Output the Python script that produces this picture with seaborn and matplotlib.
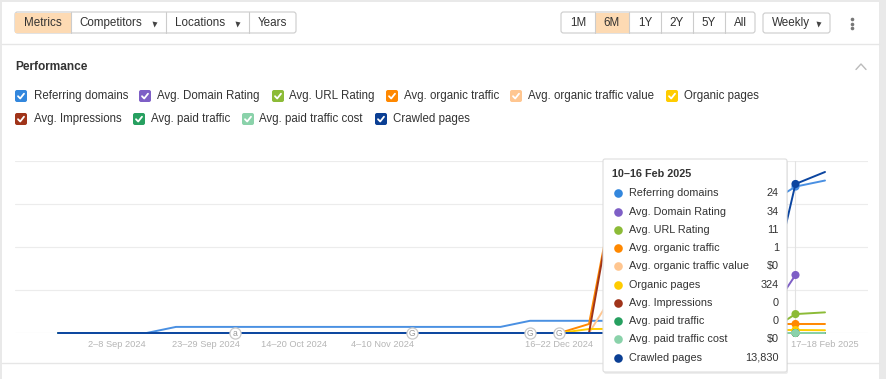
import numpy as np
import pandas as pd
import seaborn as sns
import matplotlib.pyplot as plt
from matplotlib.patches import FancyBboxPatch, Rectangle

# ==================================
# DATA (weekly, 19-25 Aug 2024 .. 17-18 Feb 2025)
# ==================================

week_labels = [
    "19–25 Aug 2024", "26 Aug–1 Sep 2024", "2–8 Sep 2024", "9–15 Sep 2024",
    "16–22 Sep 2024", "23–29 Sep 2024", "30 Sep–6 Oct 2024", "7–13 Oct 2024",
    "14–20 Oct 2024", "21–27 Oct 2024", "28 Oct–3 Nov 2024", "4–10 Nov 2024",
    "11–17 Nov 2024", "18–24 Nov 2024", "25 Nov–1 Dec 2024", "2–8 Dec 2024",
    "9–15 Dec 2024", "16–22 Dec 2024", "23–29 Dec 2024", "30 Dec 2024–5 Jan 2025",
    "6–12 Jan 2025", "13–19 Jan 2025", "20–26 Jan 2025", "27 Jan–2 Feb 2025",
    "3–9 Feb 2025", "10–16 Feb 2025", "17–18 Feb 2025",
]
tick_weeks = [2, 5, 8, 11, 17, 26]

series_names = [
    "Referring domains", "Avg. Domain Rating", "Avg. URL Rating",
    "Avg. organic traffic", "Avg. organic traffic value", "Organic pages",
    "Avg. Impressions", "Avg. paid traffic", "Avg. paid traffic cost",
    "Crawled pages",
]

referring_domains = [0, 0, 0, 0, 1, 1, 1, 1, 1, 1, 1, 1, 1, 1, 1, 1, 2, 2, 2, 2, 5, 10, 15, 18, 21, 24, 25]
domain_rating = [0, 0, 0, 0, 0, 0, 0, 0, 0, 0, 0, 0, 0, 0, 0, 0, 0, 0, 0, 0, 0, 0, 0, 3, 8, 34, np.nan]
url_rating = [0, 0, 0, 0, 0, 0, 0, 0, 0, 0, 0, 0, 0, 0, 0, 0, 0, 0, 0, 0, 0, 0, 0, 0, 0, 11, 12]
organic_traffic = [0, 0, 0, 0, 0, 0, 0, 0, 0, 0, 0, 0, 0, 0, 0, 0, 0, 0, 1, 18, 12, 7, 4, 2, 1, 1, 1]
traffic_value = [0, 0, 0, 0, 0, 0, 0, 0, 0, 0, 0, 0, 0, 0, 0, 0, 0, 0, 0, 1.1, 0.8, 0.4, 0.2, 0.1, 0, 0, 0]
organic_pages = [0, 0, 0, 0, 0, 0, 0, 0, 0, 0, 0, 0, 0, 0, 0, 0, 0, 0, 430, 450, 520, 600, 480, 390, 340, 324, 300]
impressions = [0, 0, 0, 0, 0, 0, 0, 0, 0, 0, 0, 0, 0, 0, 0, 0, 0, 0, 0, 11.5, 6, 3, 1, 0, 0, 0, 0]
paid_traffic = [0, 0, 0, 0, 0, 0, 0, 0, 0, 0, 0, 0, 0, 0, 0, 0, 0, 0, 0, 0, 0, 0, 0, 0, 0, 0, 0]
paid_cost = [0, 0, 0, 0, 0, 0, 0, 0, 0, 0, 0, 0, 0, 0, 0, 0, 0, 0, 0, 0, 0, 0, 0, 0, 0, 0, 0]
crawled_pages = [0, 0, 0, 0, 0, 0, 0, 0, 0, 0, 0, 0, 0, 0, 0, 0, 0, 0, 0, 0, 0, 0, 0, 400, 2130, 13830, 14940]

all_values = [referring_domains, domain_rating, url_rating, organic_traffic, traffic_value,
              organic_pages, impressions, paid_traffic, paid_cost, crawled_pages]
money = [False, False, False, False, True, False, False, False, True, False]

hover_week = 25
annot_weeks = [6, 12, 16, 17]
annot_glyphs = ["a", "G", "G", "G"]

# each series has its own scale (top of chart)
scale_tops = [28.2, 100.8, 100, 19.1, 4, 18600, 12, 1, 1, 15960]

line_colors = ["#4a90e2", "#7e5fc6", "#8cbb37", "#ff8800", "#ffc690",
               "#ffcc00", "#a0341a", "#27a060", "#8ad2aa", "#0b45a0"]
box_colors = ["#3387dd", "#7e5fc6", "#8cbb37", "#ff8800", "#ffc690",
              "#ffcc00", "#a0341a", "#27a060", "#8ad2aa", "#0b3f94"]

rows = []
for name, vals in zip(series_names, all_values):
    for w, v in enumerate(vals):
        rows.append({"series": name, "week": w, "value": v})
df = pd.DataFrame(rows)

# ==================================
# FIGURE
# ==================================

sns.set_style("white")
plt.rcParams["font.family"] = ["Liberation Sans", "DejaVu Sans"]

W, H = 886, 379
fig = plt.figure(figsize=(W / 100, H / 100), dpi=100)
fig.patch.set_facecolor("white")

bg = fig.add_axes([0, 0, 1, 1])
bg.set_xlim(0, W)
bg.set_ylim(H, 0)
bg.axis("off")

TXT = "#333333"
GRAYLINE = "#e6e6e6"

# outer frame
bg.add_patch(Rectangle((0, 0), 2, H, color="#e9e9e9", lw=0))
bg.add_patch(Rectangle((0, 0), W, 2, color="#e9e9e9", lw=0))
bg.add_patch(Rectangle((879, 0), 7, H, color="#e9e9e9", lw=0))
bg.plot([2, 879], [44, 44], color=GRAYLINE, lw=1)
bg.plot([2, 879], [363, 363], color=GRAYLINE, lw=1)


def button_group(x0, x1, seps, active, labels, centers, tri=None):
    bg.add_patch(FancyBboxPatch((x0, 12), x1 - x0, 21, boxstyle="round,pad=0,rounding_size=2.5",
                                fc="white", ec="#cccccc", lw=0.8))
    if active is not None:
        a0, a1 = active
        bg.add_patch(Rectangle((a0, 12.5), a1 - a0, 20, fc="#fddab3", ec="none"))
    for s in seps:
        bg.plot([s, s], [12, 33], color="#cccccc", lw=0.8)
    for lab, cx in zip(labels, centers):
        bg.text(cx, 23, lab, ha="center", va="center", fontsize=8.4, color=TXT)
    if tri:
        for tx in tri:
            bg.plot(tx, 23.5, marker="v", ms=3.6, color="#444444", mec="none")


button_group(15, 296, [71, 166, 249], (15.5, 71), ["Metrics", "Competitors", "Locations", "Years"],
             [43, 111, 200, 272.5], tri=[154, 237])
button_group(561, 755, [595, 629, 661, 693, 725], (595, 629), ["1M", "6M", "1Y", "2Y", "5Y", "All"],
             [578, 612, 645, 677, 709, 740])
bg.add_patch(FancyBboxPatch((763, 13), 67, 20, boxstyle="round,pad=0,rounding_size=2.5",
                            fc="white", ec="#cccccc", lw=0.8))
bg.text(791, 23, "Weekly", ha="center", va="center", fontsize=8.4, color=TXT)
bg.plot(818, 23.5, marker="v", ms=3.6, color="#444444", mec="none")
for yy in [19, 23.5, 28]:
    bg.plot(852, yy, marker="o", ms=2.6, color="#777777", mec="none")

bg.text(15, 67, "Performance", ha="left", va="center", fontsize=8.6, fontweight="bold", color=TXT)
bg.plot([856, 861, 866], [69.5, 64, 69.5], color="#bbbbbb", lw=1)

# legend checkboxes
legend_pos = [(15, 34, 96), (139, 157, 96), (272, 289, 96), (386, 404, 96), (510, 528, 96),
              (666, 684, 96), (15, 34, 119), (133, 151, 119), (242, 259, 119), (375, 393, 119)]
for name, c, (bx, lx, cy) in zip(series_names, box_colors, legend_pos):
    bg.add_patch(FancyBboxPatch((bx, cy - 6), 12, 12, boxstyle="round,pad=0,rounding_size=2",
                                fc=c, ec="none"))
    bg.plot([bx + 3, bx + 5.2, bx + 9], [cy + 0.2, cy + 2.5, cy - 2.3], color="white", lw=1.3,
            solid_capstyle="round", solid_joinstyle="round")
    bg.text(lx, cy, name, ha="left", va="center", fontsize=8.3, color=TXT)

# ==================================
# CHART
# ==================================

x_left, x_right, y_top, y_bot = 15, 868, 161, 333
ax = fig.add_axes([x_left / W, 1 - y_bot / H, (x_right - x_left) / W, (y_bot - y_top) / H])
ax.patch.set_alpha(0)
ax.set_ylim(0, 4)
ax.set_yticks([0, 1, 2, 3, 4])
ax.grid(axis="y", color="#ececec", lw=0.8)
ax.grid(axis="x", visible=False)
ax.tick_params(axis="y", length=0, labelleft=False)
for sp in ax.spines.values():
    sp.set_visible(False)
ax.axvline(hover_week, color="#e2e2e2", lw=0.8)

for name, vals, color, top in zip(series_names, all_values, line_colors, scale_tops):
    tw = ax.twinx()
    sub = df[df["series"] == name]
    sns.lineplot(data=sub, x="week", y="value", ax=tw, color=color, lw=1.4,
                 legend=False, clip_on=False)
    tw.scatter([hover_week], [vals[hover_week]], s=34, color=color, zorder=5,
               clip_on=False, edgecolors="none")
    tw.set_ylim(0, top)
    tw.set_axis_off()

# annotation markers on the baseline
ann = ax.twinx()
ann.set_ylim(0, 1)
ann.set_axis_off()
ann.scatter(annot_weeks, [0] * len(annot_weeks), s=64, color="white", edgecolors="#c9c9c9",
            linewidths=0.9, zorder=6, clip_on=False)
for w, g in zip(annot_weeks, annot_glyphs):
    ann.text(w, 0, g, ha="center", va="center", fontsize=6.2, color="#999999", zorder=7)

ax.set_xlim((x_left - 58) / 29.5, (x_right - 58) / 29.5)
ax.set_xticks(tick_weeks)
ax.set_xticklabels([week_labels[i] for i in tick_weeks])
ax.tick_params(axis="x", length=0, pad=5, labelsize=6.7, labelcolor="#b5b5b5")
ax.set_xlabel("")
ax.set_ylabel("")

# ==================================
# TOOLTIP
# ==================================

ov = fig.add_axes([0, 0, 1, 1])
ov.set_zorder(10)
ov.set_xlim(0, W)
ov.set_ylim(H, 0)
ov.axis("off")

tx0, tx1, ty0, ty1 = 603, 787, 159, 372
ov.add_patch(FancyBboxPatch((tx0 + 1, ty0 + 2), tx1 - tx0, ty1 - ty0, boxstyle="round,pad=0,rounding_size=2",
                            fc="#000000", alpha=0.07, ec="none"))
ov.add_patch(FancyBboxPatch((tx0, ty0), tx1 - tx0, ty1 - ty0, boxstyle="round,pad=0,rounding_size=2",
                            fc="white", ec="#dddddd", lw=0.8))
ov.text(612, 174, week_labels[hover_week], ha="left", va="center", fontsize=7.8,
        fontweight="bold", color=TXT)
for i, (name, vals, c, m) in enumerate(zip(series_names, all_values, box_colors, money)):
    yy = 193.3 + i * 18.27
    v = vals[hover_week]
    txt = ("$" if m else "") + f"{v:,.0f}"
    ov.plot(618, yy, marker="o", ms=6.2, color=c, mec="none")
    ov.text(629, yy, name, ha="left", va="center", fontsize=7.8, color=TXT)
    ov.text(779, yy, txt, ha="right", va="center", fontsize=7.8, color=TXT)

fig.savefig("out.png", dpi=100)
